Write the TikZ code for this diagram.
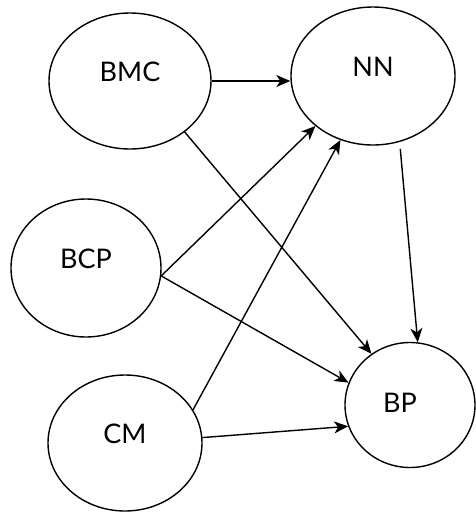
\documentclass[tikz,border=0pt]{standalone}
\usepackage{fontspec}
\setmainfont{Lato}
\usetikzlibrary{shapes.geometric,arrows.meta}
\begin{document}
\begin{tikzpicture}[x=1pt,y=-1pt,
  var/.style={draw,ellipse,line width=1.4pt,inner sep=0pt,font=\fontsize{27}{30}\selectfont},
  link/.style={line width=1.4pt,-{Stealth[length=14pt,width=12pt,inset=4pt]}}]
 \useasboundingbox (0,0) rectangle (476,512);

 \node [var,minimum width=162pt,minimum height=136pt] (BMC) at (130,81) {\smash{BMC}};
 \node [var,minimum width=164pt,minimum height=138pt] (NN) at (373,76) {\smash{NN}};
 \node [var,minimum width=150pt,minimum height=138pt] (BCP) at (86,268) {\smash{BCP}};
 \node [var,minimum width=154pt,minimum height=136pt] (CM) at (125,443) {\smash{CM}};
 \node [var,minimum width=130pt,minimum height=125pt] (BP) at (410,405) {\hspace*{-20pt}\smash{\raisebox{-7pt}{BP}}};

 \draw[link] (BMC.east) -- (BMC.east -| NN.west);
 \draw[link] (BMC.-43) -- (BP.127);
 \draw[link] (BCP.-6) -- (NN.221);
 \draw[link] (BCP.-6) -- (BP.160);
 \draw[link] (CM.26) -- (NN.243);
 \draw[link] (CM.4) -- (BP.199);
 \draw[link,shorten <=7pt] (NN.-68) -- (BP.83);
\end{tikzpicture}
\end{document}
